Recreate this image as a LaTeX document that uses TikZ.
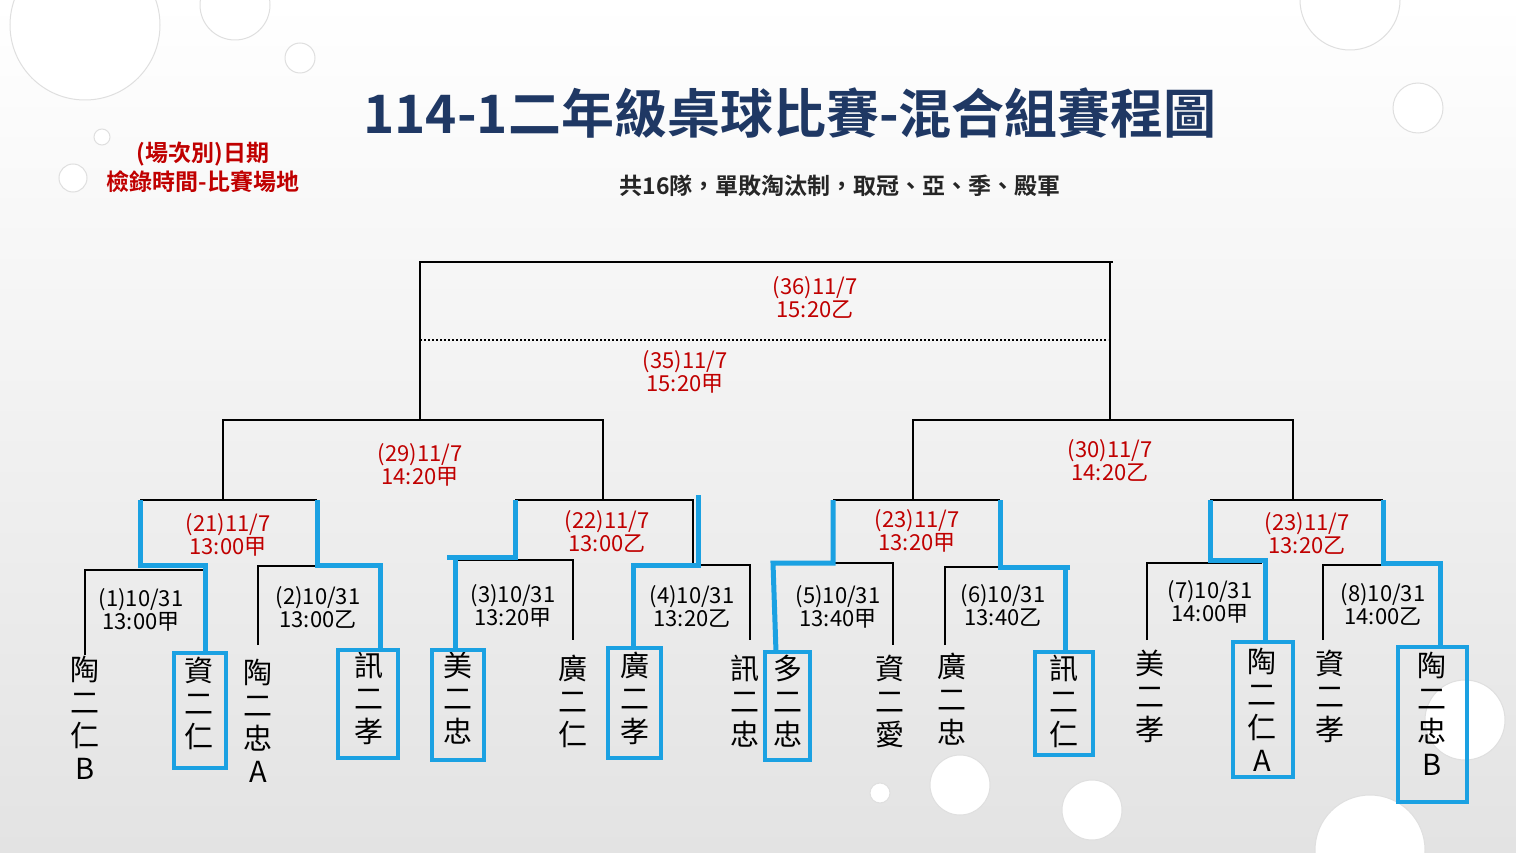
\documentclass[tikz,border=0pt]{standalone}
\usepackage{fontspec}
\setmainfont{Noto Sans CJK TC}
\newfontfamily\cjkb{Noto Sans CJK TC}[BoldFont={Noto Sans CJK TC Bold}]
\definecolor{navy}{HTML}{1F3864}
\definecolor{dred}{HTML}{C00000}
\definecolor{cyanb}{HTML}{1BA1E2}
\begin{document}
\begin{tikzpicture}[x=1pt,y=-1pt,
  br/.style={line width=2.2pt,black},
  bl/.style={line width=5pt,cyanb},
  box/.style={line width=4pt,cyanb},
  lab/.style={font=\fontsize{22}{23}\selectfont,align=center},
  rlab/.style={lab,text=dred},
  team/.style={font=\fontsize{29}{33}\selectfont,align=center,anchor=north,inner sep=0pt},
  drop/.style={circle,fill=white,draw=gray!25,line width=1pt,inner sep=0pt}]
\useasboundingbox (0,0) rectangle (1516,853);
\shade[top color=white,bottom color=gray!22] (0,0) rectangle (1516,853);
% drops
\node[drop,minimum size=150pt] (d1) at (85,25) {};
\node[drop,minimum size=70pt] (d2) at (235,5) {};
\node[drop,minimum size=30pt] (d3) at (300,58) {};
\node[drop,minimum size=16pt] (d4) at (102,137) {};
\node[drop,minimum size=28pt] (d5) at (73,178) {};
\node[drop,minimum size=50pt] (d6) at (1418,108) {};
\node[drop,minimum size=100pt] (d7) at (1350,0) {};
\node[drop,minimum size=60pt] (d8) at (960,785) {};
\node[drop,minimum size=20pt] (d9) at (880,793) {};
\node[drop,minimum size=60pt] (d10) at (1092,810) {};
\node[drop,minimum size=80pt] (d11) at (1465,720) {};
\node[drop,minimum size=110pt] (d12) at (1370,850) {};
% titles
\node[font=\cjkb\bfseries\fontsize{53}{56}\selectfont,text=navy] (title) at (790,113) {114-1二年級桌球比賽-混合組賽程圖};
\node[font=\cjkb\bfseries\fontsize{23}{25}\selectfont,text=black!85] (sub) at (840,186) {共16隊，單敗淘汰制，取冠、亞、季、殿軍};
\node[font=\cjkb\bfseries\fontsize{23}{29}\selectfont,text=dred,align=center] (legend) at (203,167) {(場次別)日期\\檢錄時間-比賽場地};
% final
\draw[br] (420,420) -- (420,262) -- (1113,262);
\draw[br] (1110,262) -- (1110,420);
\draw[line width=2pt,dotted] (420,340) -- (1108,340);
% round 3
\draw[br] (223,500) -- (223,420) -- (603,420) -- (603,500);
\draw[br] (913,500) -- (913,420) -- (1293,420) -- (1293,500);
% round 2
\draw[br] (140,500) -- (317,500);
\draw[br] (515,500) -- (693,500) -- (693,565);
\draw[br] (833,500) -- (1000,500);
\draw[br] (1210,500) -- (1383,500);
% round 1
\draw[br] (85,655) -- (85,570) -- (205,570);
\draw[br] (258,645) -- (258,566) -- (380,566);
\draw[br] (455,560) -- (573,560) -- (573,640);
\draw[br] (633,565) -- (750,565) -- (750,640);
\draw[br] (775,563) -- (893,563) -- (893,645);
\draw[br] (945,645) -- (945,567) -- (1065,567);
\draw[br] (1147,640) -- (1147,563) -- (1262,563);
\draw[br] (1323,640) -- (1323,565) -- (1440,565);
% blue advancing paths
\draw[bl] (140,500) -- (140,565) -- (205,565) -- (205,652);
\draw[bl] (317,500) -- (317,565) -- (380,565) -- (380,650);
\draw[bl] (515,500) -- (515,557) -- (447,557);
\draw[bl] (455,557) -- (455,650);
\draw[bl] (698,495) -- (698,565) -- (633,565) -- (633,648);
\draw[bl] (833,500) -- (833,563) -- (773,563) -- (776,652);
\draw[bl] (1000,500) -- (1000,567) -- (1070,567);
\draw[bl] (1065,567) -- (1065,652);
\draw[bl] (1210,500) -- (1210,560) -- (1265,560) -- (1265,642);
\draw[bl] (1383,500) -- (1383,563) -- (1440,563) -- (1440,647);
% labels
\node[rlab] (m36) at (815,297) {(36)11/7\\15:20乙};
\node[rlab] (m35) at (685,372) {(35)11/7\\15:20甲};
\node[rlab] (m29) at (420,465) {(29)11/7\\14:20甲};
\node[rlab] (m30) at (1110,460) {(30)11/7\\14:20乙};
\node[rlab] (m21) at (228,535) {(21)11/7\\13:00甲};
\node[rlab] (m22) at (607,531) {(22)11/7\\13:00乙};
\node[rlab] (m23) at (917,531) {(23)11/7\\13:20甲};
\node[rlab] (m23b) at (1307,533) {(23)11/7\\13:20乙};
\node[lab] (m1) at (141,610) {(1)10/31\\13:00甲};
\node[lab] (m2) at (318,607) {(2)10/31\\13:00乙};
\node[lab] (m3) at (513,606) {(3)10/31\\13:20甲};
\node[lab] (m4) at (692,606) {(4)10/31\\13:20乙};
\node[lab] (m5) at (838,607) {(5)10/31\\13:40甲};
\node[lab] (m6) at (1003,605) {(6)10/31\\13:40乙};
\node[lab] (m7) at (1210,602) {(7)10/31\\14:00甲};
\node[lab] (m8) at (1383,604) {(8)10/31\\14:00乙};
% teams
\node[team] (t1) at (85,656) {陶\\二\\仁\\B};
\node[team] (t2) at (199,657) {資\\二\\仁};
\node[team] (t3) at (258,659) {陶\\二\\忠\\A};
\node[team] (t4) at (369,652) {訊\\二\\孝};
\node[team] (t5) at (458,652) {美\\二\\忠};
\node[team] (t6) at (573,655) {廣\\二\\仁};
\node[team] (t7) at (635,652) {廣\\二\\孝};
\node[team] (t8) at (745,655) {訊\\二\\忠};
\node[team] (t9) at (788,655) {多\\二\\忠};
\node[team] (t10) at (890,655) {資\\二\\愛};
\node[team] (t11) at (952,653) {廣\\二\\忠};
\node[team] (t12) at (1064,655) {訊\\二\\仁};
\node[team] (t13) at (1150,650) {美\\二\\孝};
\node[team] (t14) at (1262,648) {陶\\二\\仁\\A};
\node[team] (t15) at (1330,650) {資\\二\\孝};
\node[team] (t16) at (1432,652) {陶\\二\\忠\\B};
% boxes
\draw[box] (174,653) rectangle (226,768);
\draw[box] (338,650) rectangle (398,758);
\draw[box] (432,650) rectangle (484,760);
\draw[box] (608,648) rectangle (661,758);
\draw[box] (765,652) rectangle (810,760);
\draw[box] (1035,652) rectangle (1093,755);
\draw[box] (1233,642) rectangle (1293,777);
\draw[box] (1398,647) rectangle (1467,802);
\end{tikzpicture}
\end{document}
